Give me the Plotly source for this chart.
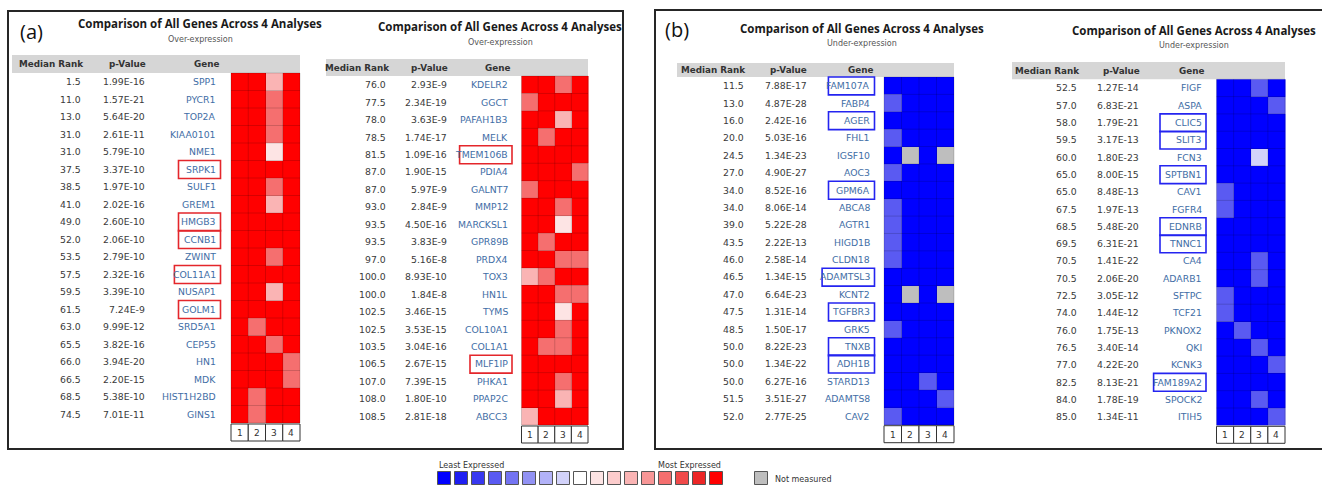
import plotly.graph_objects as go

# ---------------- DATA ----------------
COL_LABELS = ["1", "2", "3", "4"]
HEADERS = ["Median Rank", "p-Value", "Gene"]
TITLE = "Comparison of All Genes Across 4 Analyses"

# (a) left table - over-expression
A1_RANK = [1.5, 11.0, 13.0, 31.0, 31.0, 37.5, 38.5, 41.0, 49.0, 52.0,
           53.5, 57.5, 59.5, 61.5, 63.0, 65.5, 66.0, 66.5, 68.5, 74.5]
A1_PVAL = [1.99e-16, 1.57e-21, 5.64e-20, 2.61e-11, 5.79e-10, 3.37e-10, 1.97e-10, 2.02e-16, 2.60e-10, 2.06e-10,
           2.79e-10, 2.32e-16, 3.39e-10, 7.24e-9, 9.99e-12, 3.82e-16, 3.94e-20, 2.20e-15, 5.38e-10, 7.01e-11]
A1_GENES = ["SPP1", "PYCR1", "TOP2A", "KIAA0101", "NME1", "SRPK1", "SULF1", "GREM1", "HMGB3", "CCNB1",
            "ZWINT", "COL11A1", "NUSAP1", "GOLM1", "SRD5A1", "CEP55", "HN1", "MDK", "HIST1H2BD", "GINS1"]
A1_LEVELS = [[8, 8, 3, 8], [8, 8, 5, 8], [8, 8, 5, 8], [8, 8, 5, 8], [8, 8, 1, 8],
             [8, 8, 8, 8], [8, 8, 5, 8], [8, 8, 3, 8], [8, 8, 8, 8], [8, 8, 8, 8],
             [8, 8, 5, 8], [8, 8, 8, 8], [8, 8, 3, 8], [8, 8, 8, 8], [8, 5, 8, 8],
             [8, 8, 5, 8], [8, 8, 8, 5], [8, 8, 8, 5], [8, 5, 8, 8], [8, 5, 8, 8]]
A1_BOXED = ["SRPK1", "HMGB3", "CCNB1", "COL11A1", "GOLM1"]

# (a) right table - over-expression
A2_RANK = [76.0, 77.5, 78.0, 78.5, 81.5, 87.0, 87.0, 93.0, 93.5, 93.5,
           97.0, 100.0, 100.0, 102.5, 102.5, 103.5, 106.5, 107.0, 108.0, 108.5]
A2_PVAL = [2.93e-9, 2.34e-19, 3.63e-9, 1.74e-17, 1.09e-16, 1.90e-15, 5.97e-9, 2.84e-9, 4.50e-16, 3.83e-9,
           5.16e-8, 8.93e-10, 1.84e-8, 3.46e-15, 3.53e-15, 3.04e-16, 2.67e-15, 7.39e-15, 1.80e-10, 2.81e-18]
A2_GENES = ["KDELR2", "GGCT", "PAFAH1B3", "MELK", "TMEM106B", "PDIA4", "GALNT7", "MMP12", "MARCKSL1", "GPR89B",
            "PRDX4", "TOX3", "HN1L", "TYMS", "COL10A1", "COL1A1", "MLF1IP", "PHKA1", "PPAP2C", "ABCC3"]
A2_LEVELS = [[8, 8, 5, 8], [5, 8, 8, 8], [8, 8, 3, 8], [8, 5, 8, 8], [8, 8, 8, 8],
             [8, 8, 8, 5], [5, 8, 8, 8], [8, 8, 5, 8], [8, 8, 1, 8], [8, 5, 8, 8],
             [8, 8, 5, 5], [3, 5, 8, 8], [8, 8, 5, 5], [8, 8, 1, 8], [8, 8, 5, 8],
             [8, 5, 5, 8], [8, 8, 8, 8], [8, 8, 5, 8], [8, 8, 3, 8], [3, 8, 8, 8]]
A2_BOXED = ["TMEM106B", "MLF1IP"]

# (b) left table - under-expression (None = not measured)
B1_RANK = [11.5, 13.0, 16.0, 20.0, 24.5, 27.0, 34.0, 34.0, 39.0, 43.5,
           46.0, 46.5, 47.0, 47.5, 48.5, 50.0, 50.0, 50.0, 51.5, 52.0]
B1_PVAL = [7.88e-17, 4.87e-28, 2.42e-16, 5.03e-16, 1.34e-23, 4.90e-27, 8.52e-16, 8.06e-14, 5.22e-28, 2.22e-13,
           2.58e-14, 1.34e-15, 6.64e-23, 1.31e-14, 1.50e-17, 8.22e-23, 1.34e-22, 6.27e-16, 3.51e-27, 2.77e-25]
B1_GENES = ["FAM107A", "FABP4", "AGER", "FHL1", "IGSF10", "AOC3", "GPM6A", "ABCA8", "AGTR1", "HIGD1B",
            "CLDN18", "ADAMTSL3", "KCNT2", "TGFBR3", "GRK5", "TNXB", "ADH1B", "STARD13", "ADAMTS8", "CAV2"]
B1_LEVELS = [[-8, -8, -8, -8], [-5, -8, -8, -8], [-8, -8, -8, -8], [-5, -8, -8, -8], [-8, None, -8, None],
             [-5, -8, -8, -8], [-8, -8, -8, -8], [-5, -8, -8, -8], [-5, -8, -8, -8], [-5, -8, -8, -8],
             [-5, -8, -8, -8], [-8, -8, -8, -8], [-8, None, -8, None], [-8, -8, -8, -8], [-5, -8, -8, -8],
             [-8, -8, -8, -8], [-8, -8, -8, -8], [-8, -8, -5, -8], [-8, -8, -8, -5], [-5, -8, -8, -8]]
B1_BOXED = ["FAM107A", "AGER", "GPM6A", "ADAMTSL3", "TGFBR3", "TNXB", "ADH1B"]

# (b) right table - under-expression
B2_RANK = [52.5, 57.0, 58.0, 59.5, 60.0, 65.0, 65.0, 67.5, 68.5, 69.5,
           70.5, 70.5, 72.5, 74.0, 76.0, 76.5, 77.0, 82.5, 84.0, 85.0]
B2_PVAL = [1.27e-14, 6.83e-21, 1.79e-21, 3.17e-13, 1.80e-23, 8.00e-15, 8.48e-13, 1.97e-13, 5.48e-20, 6.31e-21,
           1.41e-22, 2.06e-20, 3.05e-12, 1.44e-12, 1.75e-13, 3.40e-14, 4.22e-20, 8.13e-21, 1.78e-19, 1.34e-11]
B2_GENES = ["FIGF", "ASPA", "CLIC5", "SLIT3", "FCN3", "SPTBN1", "CAV1", "FGFR4", "EDNRB", "TNNC1",
            "CA4", "ADARB1", "SFTPC", "TCF21", "PKNOX2", "QKI", "KCNK3", "FAM189A2", "SPOCK2", "ITIH5"]
B2_LEVELS = [[-8, -8, -5, -8], [-8, -8, -8, -5], [-8, -8, -8, -8], [-8, -8, -8, -8], [-8, -8, -1, -8],
             [-8, -8, -8, -8], [-5, -8, -8, -8], [-5, -8, -8, -8], [-8, -8, -8, -8], [-8, -8, -8, -8],
             [-8, -8, -5, -8], [-8, -8, -5, -8], [-5, -8, -8, -8], [-5, -8, -8, -8], [-8, -5, -8, -8],
             [-8, -8, -5, -8], [-8, -8, -8, -5], [-8, -8, -8, -8], [-8, -8, -5, -8], [-8, -8, -8, -5]]
B2_BOXED = ["CLIC5", "SLIT3", "SPTBN1", "EDNRB", "TNNC1", "FAM189A2"]

# legend
LEGEND_LEVELS = [-8, -7, -6, -5, -4, -3, -2, -1, 0, 1, 2, 3, 4, 5, 6, 7, 8]
LEGEND_LEFT = "Least Expressed"
LEGEND_RIGHT = "Most Expressed"
NA_LABEL = "Not measured"

# ---------------- STYLE ----------------
LEVEL_COLORS = {
    -8: "#0000FF", -7: "#1E1EF2", -6: "#3838F0", -5: "#5A5AF2", -4: "#7474F2",
    -3: "#9292F4", -2: "#B2B2F8", -1: "#D2D2FA", 0: "#FFFFFF",
    1: "#FDE4E4", 2: "#FCCCCC", 3: "#FAB4B4", 4: "#F79696", 5: "#F56F6F",
    6: "#F04A4A", 7: "#EC2626", 8: "#FF0000", 9: "#BEBEBE",
}
NA_CODE = 9
FONT = "DejaVu Sans"
TXT = "#3a3a3a"
GENE_COL = "#3f6ea6"

W, H = 1322, 488

TABLES = [
    dict(rank=A1_RANK, pval=A1_PVAL, genes=A1_GENES, lev=A1_LEVELS, boxed=A1_BOXED, sub="Over-expression",
         hx0=231, hx1=300, top=73, bot=423, htop=55, hleft=12,
         rank_r=83, pval_r=147, gene_r=218, hc=(51, 127.5, 206),
         tc=200, ty=23, sy=39.5, boxc="#e4262b", boxmin=42),
    dict(rank=A2_RANK, pval=A2_PVAL, genes=A2_GENES, lev=A2_LEVELS, boxed=A2_BOXED, sub="Over-expression",
         hx0=521.5, hx1=588, top=76, bot=425, htop=59, hleft=326,
         rank_r=388, pval_r=449, gene_r=509.5, hc=(357, 429.5, 497.5),
         tc=500, ty=26.5, sy=42.5, boxc="#e4262b", boxmin=42),
    dict(rank=B1_RANK, pval=B1_PVAL, genes=B1_GENES, lev=B1_LEVELS, boxed=B1_BOXED, sub="Under-expression",
         hx0=884, hx1=954, top=77, bot=424.7, htop=63, hleft=677,
         rank_r=746, pval_r=808.5, gene_r=872, hc=(713, 788, 860),
         tc=862, ty=28, sy=43.5, boxc="#2424f0", boxmin=46),
    dict(rank=B2_RANK, pval=B2_PVAL, genes=B2_GENES, lev=B2_LEVELS, boxed=B2_BOXED, sub="Under-expression",
         hx0=1216.5, hx1=1285, top=79.3, bot=425.3, htop=62, hleft=1012,
         rank_r=1078.5, pval_r=1141, gene_r=1203.5, hc=(1047, 1121.7, 1191.7),
         tc=1194, ty=30, sy=45.7, boxc="#2424f0", boxmin=46),
]


def fmt_p(v):
    m, e = f"{v:.2E}".split("E")
    return f"{m}E{int(e)}"


nlev = 18
colorscale = []
for k, lvl in enumerate(range(-8, 10)):
    c = LEVEL_COLORS[lvl]
    colorscale.append([k / nlev, c])
    colorscale.append([(k + 1) / nlev, c])

fig = go.Figure()
annotations = []
shapes = []


def ann(x, y, text, size=9.3, color=TXT, xanchor="center", family=FONT, yanchor="middle"):
    annotations.append(dict(x=x, y=y, xref="x", yref="y", text=text, showarrow=False,
                            xanchor=xanchor, yanchor=yanchor,
                            font=dict(family=family, size=size, color=color)))


# panel frames
shapes.append(dict(type="rect", xref="x", yref="y", x0=8, y0=11, x1=623, y1=449,
                   line=dict(color="#262626", width=2), layer="below"))
shapes.append(dict(type="rect", xref="x", yref="y", x0=655, y0=10, x1=1330, y1=449,
                   line=dict(color="#262626", width=2), layer="below"))
ann(18, 31, "(a)", size=20, color="#111", xanchor="left", family="Open Sans")
ann(663, 29, "(b)", size=20, color="#111", xanchor="left", family="Open Sans")

for t in TABLES:
    n = len(t["genes"])
    cw = (t["hx1"] - t["hx0"]) / 4
    rh = (t["bot"] - t["top"]) / n
    # header bar
    shapes.append(dict(type="rect", xref="x", yref="y", x0=t["hleft"], x1=t["hx1"], y0=t["htop"], y1=t["top"],
                       fillcolor="#d6d6d6", line=dict(width=0), layer="below"))
    hy = (t["htop"] + t["top"]) / 2
    for label, cx in zip(HEADERS, t["hc"]):
        ann(cx, hy, f"<b>{label}</b>", size=8.8, color="#333")
    # title
    ann(t["tc"], t["ty"], f"<b>{TITLE}</b>", size=11.5, color="#1a1a1a", family="Open Sans")
    ann(t["tc"], t["sy"], t["sub"], size=8, color="#555")
    # heat map
    z = [[NA_CODE if v is None else v for v in row] for row in t["lev"]]
    fig.add_trace(go.Heatmap(z=z, x0=t["hx0"] + cw / 2, dx=cw, y0=t["top"] + rh / 2, dy=rh,
                             colorscale=colorscale, zmin=-8.5, zmax=9.5, showscale=False,
                             hoverinfo="skip"))
    for k in range(5):
        x = t["hx0"] + k * cw
        shapes.append(dict(type="line", xref="x", yref="y", x0=x, x1=x, y0=t["top"], y1=t["bot"],
                           line=dict(color="rgba(0,0,0,0.16)", width=1)))
    for j in range(n + 1):
        y = t["top"] + j * rh
        shapes.append(dict(type="line", xref="x", yref="y", x0=t["hx0"], x1=t["hx1"], y0=y, y1=y,
                           line=dict(color="rgba(0,0,0,0.16)", width=1)))
    # column number boxes
    for k, lab in enumerate(COL_LABELS):
        x0 = t["hx0"] + k * cw
        shapes.append(dict(type="rect", xref="x", yref="y", x0=x0, x1=x0 + cw, y0=t["bot"] + 1,
                           y1=t["bot"] + 18, line=dict(color="#333", width=1), fillcolor="white"))
        ann(x0 + cw / 2, t["bot"] + 9.8, lab, size=9, color="#333")
    # rows
    for j in range(n):
        y = t["top"] + (j + 0.5) * rh
        ann(t["rank_r"], y, f"{t['rank'][j]:.1f}", xanchor="right")
        ann(t["pval_r"], y, fmt_p(t["pval"][j]), xanchor="right")
        g = t["genes"][j]
        ann(t["gene_r"], y, g, xanchor="right", color=GENE_COL)
        if g in t["boxed"]:
            bw = max(t["boxmin"], 6.3 * len(g) + 2)
            shapes.append(dict(type="rect", xref="x", yref="y", x0=t["gene_r"] + 2.5 - bw, x1=t["gene_r"] + 2.5,
                               y0=t["top"] + j * rh, y1=t["top"] + (j + 1) * rh + 0.5,
                               line=dict(color=t["boxc"], width=1.6)))

# legend
LX0, LDX, LY = 444, 17, 478
fig.add_trace(go.Scatter(
    x=[LX0 + LDX * i for i in range(len(LEGEND_LEVELS))], y=[LY] * len(LEGEND_LEVELS),
    mode="markers", hoverinfo="skip",
    marker=dict(symbol="square", size=13, color=[LEVEL_COLORS[v] for v in LEGEND_LEVELS],
                line=dict(color="#555", width=1))))
fig.add_trace(go.Scatter(
    x=[761], y=[LY], mode="markers", hoverinfo="skip",
    marker=dict(symbol="square", size=13, color=LEVEL_COLORS[NA_CODE], line=dict(color="#555", width=1))))
ann(437, 465, LEGEND_LEFT, size=8, color="#333", xanchor="left")
ann(722.5, 465, LEGEND_RIGHT, size=8, color="#333", xanchor="right")
ann(773, 479, NA_LABEL, size=8, color="#333", xanchor="left")

fig.update_layout(
    width=W, height=H, margin=dict(l=0, r=0, t=0, b=0),
    paper_bgcolor="white", plot_bgcolor="white", showlegend=False,
    xaxis=dict(range=[0, W], visible=False, fixedrange=True),
    yaxis=dict(range=[H, 0], visible=False, fixedrange=True),
    annotations=annotations, shapes=shapes,
)
fig.write_html("out.html", config={"displayModeBar": False},
               post_script="document.body.style.margin='0';document.body.style.overflow='hidden';")
